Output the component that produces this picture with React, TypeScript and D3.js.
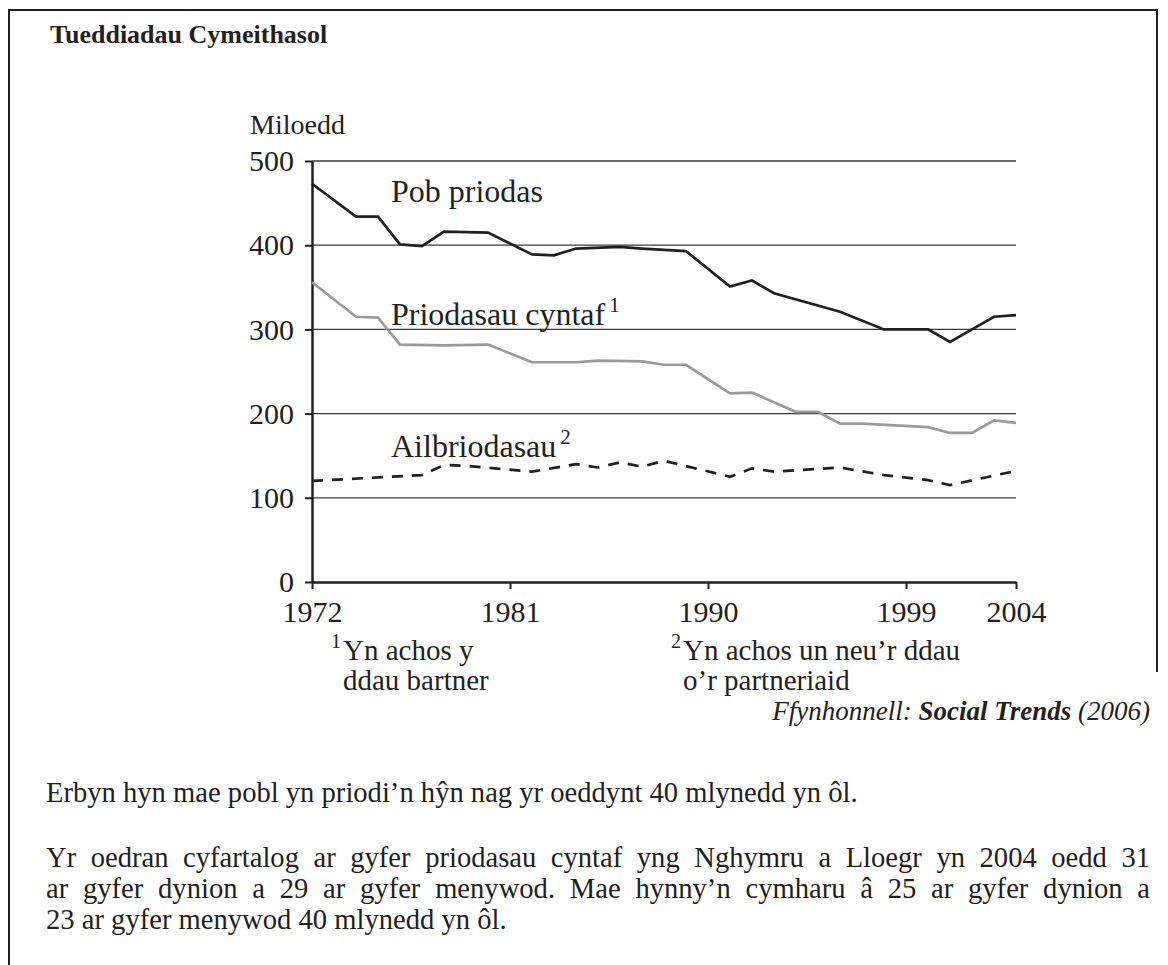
import { useEffect, useRef } from 'react';
import * as d3 from 'd3';

// Pob priodas (miloedd)
const allYears = [1972, 1974, 1975, 1976, 1977, 1978, 1980, 1982, 1983, 1984, 1986, 1987, 1989, 1991, 1992, 1993, 1996, 1998, 2000, 2001, 2002, 2003, 2004];
const allValues = [473, 434, 434, 401, 399, 416, 415, 389, 388, 396, 398, 396, 393, 351, 358, 343, 321, 300, 300, 285, 300, 315, 317];

// Priodasau cyntaf
const firstYears = [1972, 1974, 1975, 1976, 1978, 1980, 1982, 1984, 1985, 1987, 1988, 1989, 1991, 1992, 1994, 1995, 1996, 1997, 2000, 2001, 2002, 2003, 2004];
const firstValues = [356, 315, 314, 282, 281, 282, 261, 261, 263, 262, 258, 258, 224, 225, 202, 202, 188, 188, 184, 177, 177, 192, 189];

// Ailbriodasau
const remarYears = [1972, 1977, 1978, 1979, 1982, 1984, 1985, 1986, 1987, 1988, 1991, 1992, 1993, 1996, 1998, 2000, 2001, 2004];
const remarValues = [120, 127, 139, 138, 131, 140, 136, 142, 137, 144, 125, 135, 131, 136, 127, 121, 115, 132];

const yTicks = [0, 100, 200, 300, 400, 500];
const xTicks = [1972, 1981, 1990, 1999, 2004];

const paraLines = [
  'Yr oedran cyfartalog ar gyfer priodasau cyntaf yng Nghymru a Lloegr yn 2004 oedd 31',
  'ar gyfer dynion a 29 ar gyfer menywod. Mae hynny\u2019n cymharu \u00e2 25 ar gyfer dynion a',
  '23 ar gyfer menywod 40 mlynedd yn \u00f4l.',
];

const FONT = 'Liberation Serif, Times New Roman, serif';

export default function App() {
  const svgRef = useRef<SVGSVGElement>(null);

  useEffect(() => {
    if (!svgRef.current) return;
    const svg = d3.select(svgRef.current);
    svg.selectAll('*').remove();

    const ink = '#231f20';

    const addText = (tx: number, ty: number, size: number) =>
      svg.append('text')
        .attr('x', tx).attr('y', ty)
        .attr('font-family', FONT)
        .attr('font-size', size)
        .attr('fill', ink);

    // frame (right side stops above the source line)
    svg.append('path')
      .attr('d', 'M9,965V10H1157V672')
      .attr('fill', 'none')
      .attr('stroke', ink)
      .attr('stroke-width', 2);

    addText(50, 43, 26)
      .attr('font-weight', 'bold')
      .text('Tueddiadau Cymeithasol');

    const x = d3.scaleLinear().domain([1972, 2004]).range([312, 1016]);
    const y = d3.scaleLinear().domain([0, 500]).range([582, 161]);

    // gridlines
    svg.append('g')
      .selectAll('line')
      .data(yTicks.filter(d => d > 0))
      .join('line')
      .attr('x1', x(1972)).attr('x2', x(2004))
      .attr('y1', d => y(d)).attr('y2', d => y(d))
      .attr('stroke', '#3a3a3a')
      .attr('stroke-width', 1.3);

    // y axis
    const yAxis = svg.append('g')
      .attr('transform', `translate(${x(1972)},0)`)
      .call(d3.axisLeft(y).tickValues(yTicks).tickSize(7).tickSizeOuter(0).tickPadding(11));
    yAxis.attr('font-family', FONT);
    yAxis.select('.domain').attr('stroke', ink).attr('stroke-width', 2.5);
    yAxis.selectAll('.tick line').attr('stroke', ink).attr('stroke-width', 2);
    yAxis.selectAll('.tick text')
      .attr('font-size', 30).attr('font-family', FONT).attr('fill', ink);

    // x axis
    const xAxis = svg.append('g')
      .attr('transform', `translate(0,${y(0)})`)
      .call(d3.axisBottom(x).tickValues(xTicks).tickFormat(d3.format('d')).tickSize(7).tickSizeOuter(0).tickPadding(12));
    xAxis.attr('font-family', FONT);
    xAxis.select('.domain').attr('stroke', ink).attr('stroke-width', 2.5);
    xAxis.selectAll('.tick line').attr('stroke', ink).attr('stroke-width', 2);
    xAxis.selectAll('.tick text')
      .attr('font-size', 30).attr('font-family', FONT).attr('fill', ink);

    addText(250, 134, 28).text('Miloedd');

    const line = d3.line<[number, number]>()
      .x(d => x(d[0]))
      .y(d => y(d[1]));

    const series = [
      { years: remarYears, values: remarValues, color: ink, dash: '11,9' },
      { years: firstYears, values: firstValues, color: '#9a9a9a', dash: null },
      { years: allYears, values: allValues, color: ink, dash: null },
    ];

    series.forEach(s => {
      const pts = s.years.map((yr, i) => [yr, s.values[i]] as [number, number]);
      svg.append('path')
        .attr('d', line(pts))
        .attr('fill', 'none')
        .attr('stroke', s.color)
        .attr('stroke-width', 2.7)
        .attr('stroke-dasharray', s.dash)
        .attr('stroke-linejoin', 'miter');
    });

    // series labels
    const label = (tx: number, ty: number, main: string, sup?: string) => {
      const t = addText(tx, ty, 32);
      t.append('tspan').text(main);
      if (sup) {
        t.append('tspan')
          .attr('font-size', 21)
          .attr('dx', 4)
          .attr('dy', -13)
          .text(sup);
      }
    };
    label(391, 202, 'Pob priodas');
    label(391, 325, 'Priodasau cyntaf', '1');
    label(391, 457, 'Ailbriodasau', '2');

    // footnotes
    const footnote = (sx: number, tx: number, sup: string, lines: string[]) => {
      addText(sx, 648, 20).text(sup);
      lines.forEach((l, i) => {
        addText(tx, 660 + i * 30, 29).text(l);
      });
    };
    footnote(331, 343, '1', ['Yn achos y', 'ddau bartner']);
    footnote(671, 683, '2', ['Yn achos un neu\u2019r ddau', 'o\u2019r partneriaid']);

    const src = addText(1150, 720, 27)
      .attr('text-anchor', 'end')
      .attr('font-style', 'italic');
    src.append('tspan').text('Ffynhonnell: ');
    src.append('tspan').attr('font-weight', 'bold').text('Social Trends');
    src.append('tspan').text(' (2006)');

    // paragraphs
    addText(46, 802, 28.6)
      .text('Erbyn hyn mae pobl yn priodi\u2019n h\u0177n nag yr oeddynt 40 mlynedd yn \u00f4l.');

    paraLines.forEach((l, i) => {
      const t = addText(46, 867 + i * 31, 28.6).text(l);
      if (i < paraLines.length - 1) {
        const node = t.node() as SVGTextElement;
        const len = node.getComputedTextLength();
        const spaces = l.split(' ').length - 1;
        const extra = (1150 - 46 - len) / spaces;
        t.attr('word-spacing', extra);
      }
    });
  }, []);

  return (
    <svg
      ref={svgRef}
      width={1168}
      height={965}
      style={{ position: 'absolute', left: 0, top: 0, background: '#fff' }}
    />
  );
}
